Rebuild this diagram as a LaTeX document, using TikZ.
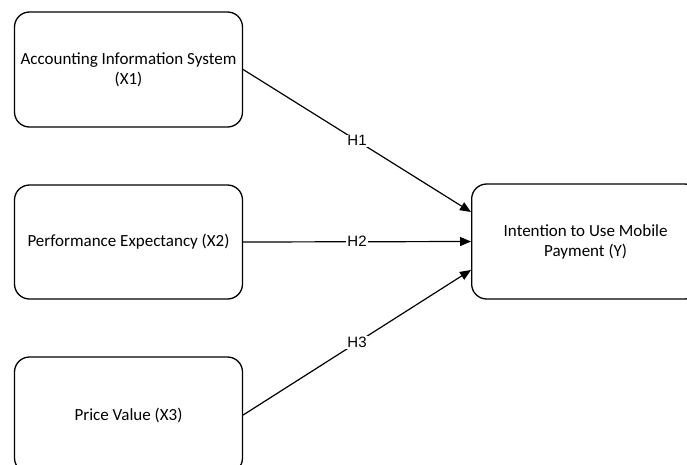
\documentclass[tikz,border=0pt]{standalone}
\usepackage{fontspec}
\setmainfont{Carlito}
\newfontfamily\lblfont{Liberation Sans}
\usetikzlibrary{arrows.meta}
\begin{document}
\begin{tikzpicture}[x=1pt,y=-1pt,
  box/.style={draw, line width=1.3pt, rounded corners=15pt, align=center, font=\fontsize{17}{20}\selectfont},
  conn/.style={line width=1.2pt, -{Triangle[length=11pt,width=9pt]}},
  lbl/.style={fill=white, inner sep=1pt, font=\lblfont\fontsize{15}{17}\selectfont}]
\useasboundingbox (0,0) rectangle (687,464);
\node[box, minimum width=228pt, minimum height=115pt] (x1) at (128.5,69.5) {Accounting Information System\\(X1)};
\node[box, minimum width=228pt, minimum height=114pt] (x2) at (128.5,242) {Performance Expectancy (X2)};
\node[box, minimum width=228pt, minimum height=116pt] (x3) at (128.5,415) {Price Value (X3)};
\node[box, minimum width=228pt, minimum height=115pt, anchor=west] (y) at (471,241.5) {Intention to Use Mobile\\Payment (Y)};
\coordinate (y1) at (471,212);
\coordinate (y3) at (471,270);
\draw[conn] (x1.east) -- node[lbl] {H1} (y1);
\draw[conn] (x2.east) -- node[lbl] {H2} (y.west);
\draw[conn] (x3.east) -- node[lbl] {H3} (y3);
\end{tikzpicture}
\end{document}
